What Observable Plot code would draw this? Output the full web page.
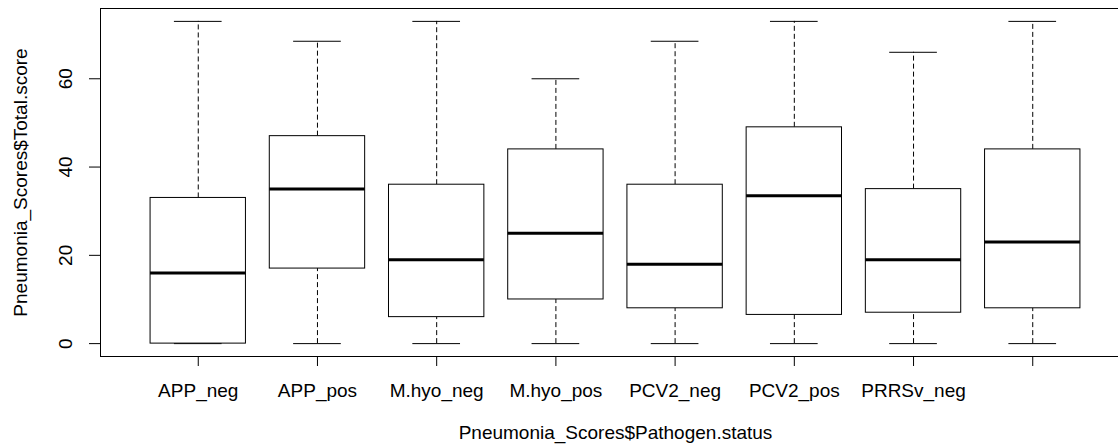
<!DOCTYPE html>
<html>
<head>
<meta charset="utf-8">
<script src="https://cdn.jsdelivr.net/npm/d3@7"></script>
<script src="https://cdn.jsdelivr.net/npm/@observablehq/plot@0.6"></script>
<style>
  html, body { margin: 0; padding: 0; background: #ffffff; }
  #chart svg { display: block; }
</style>
</head>
<body>
<div id="chart"></div>
<script>
// Groups (Pneumonia_Scores$Pathogen.status)
const categories = ["APP_neg", "APP_pos", "M.hyo_neg", "M.hyo_pos", "PCV2_neg", "PCV2_pos", "PRRSv_neg", "PRRSv_pos"];
// Tick labels as printed under the axis (the last one is not shown in the reference)
const tickLabels = ["APP_neg", "APP_pos", "M.hyo_neg", "M.hyo_pos", "PCV2_neg", "PCV2_pos", "PRRSv_neg", ""];
// Five-number summaries of Pneumonia_Scores$Total.score
const whiskerLow  = [0, 0, 0, 0, 0, 0, 0, 0];
const q1          = [0, 17, 6, 10, 8, 6.5, 7, 8];
const median      = [16, 35, 19, 25, 18, 33.5, 19, 23];
const q3          = [33, 47, 36, 44, 36, 49, 35, 44];
const whiskerHigh = [73, 68.5, 73, 60, 68.5, 73, 66, 73];
const yTicks = [0, 20, 40, 60];
const xTitle = "Pneumonia_Scores$Pathogen.status";
const yTitle = "Pneumonia_Scores$Total.score";

const rows = categories.map((c, i) => ({
  pos: i + 1, name: c, lo: whiskerLow[i], q1: q1[i], med: median[i], q3: q3[i], hi: whiskerHigh[i]
}));

const boxHalf = 0.4, capHalf = 0.2;
const n = categories.length;
const yMin = 0, yMax = d3.max(whiskerHigh);
const yPad = (yMax - yMin) * 0.04;

const chart = Plot.plot({
  width: 1118,
  height: 444,
  marginLeft: 100,
  marginRight: -12,
  marginTop: 8,
  marginBottom: 88,
  style: { fontFamily: "'Liberation Sans', Arial, sans-serif", fontSize: "19px", background: "#ffffff", color: "#000000" },
  x: { type: "linear", domain: [0.5 - 0.32, n + 0.5 + 0.32] },
  y: { type: "linear", domain: [yMin - yPad, yMax + yPad] },
  marks: [
    // dashed whiskers
    Plot.ruleX(rows, { x: "pos", y1: "q3", y2: "hi", stroke: "#000", strokeDasharray: "5,3" }),
    Plot.ruleX(rows, { x: "pos", y1: "lo", y2: "q1", stroke: "#000", strokeDasharray: "5,3" }),
    // staples
    Plot.ruleY(rows, { y: "hi", x1: d => d.pos - capHalf, x2: d => d.pos + capHalf, stroke: "#000" }),
    Plot.ruleY(rows, { y: "lo", x1: d => d.pos - capHalf, x2: d => d.pos + capHalf, stroke: "#000" }),
    // boxes
    Plot.rect(rows, { x1: d => d.pos - boxHalf, x2: d => d.pos + boxHalf, y1: "q1", y2: "q3", fill: "#ffffff", stroke: "#000" }),
    // medians
    Plot.ruleY(rows, { y: "med", x1: d => d.pos - boxHalf, x2: d => d.pos + boxHalf, stroke: "#000", strokeWidth: 3 }),
    Plot.frame({ stroke: "#000" }),
    Plot.axisY({ ticks: yTicks, tickSize: 11, tickPadding: 18, tickRotate: -90, label: null }),
    Plot.axisX({ ticks: d3.range(1, n + 1), tickSize: 10, tickPadding: 17, tickFormat: d => tickLabels[d - 1], label: null }),
    Plot.text([yTitle], { text: d => d, frameAnchor: "left", dx: -73.5, rotate: -90, textAnchor: "middle", lineAnchor: "bottom", fill: "#000" }),
    Plot.text([xTitle], { text: d => d, frameAnchor: "bottom", dy: 82.5, textAnchor: "middle", lineAnchor: "bottom", fill: "#000" })
  ]
});
document.getElementById("chart").appendChild(chart);
</script>
</body>
</html>
